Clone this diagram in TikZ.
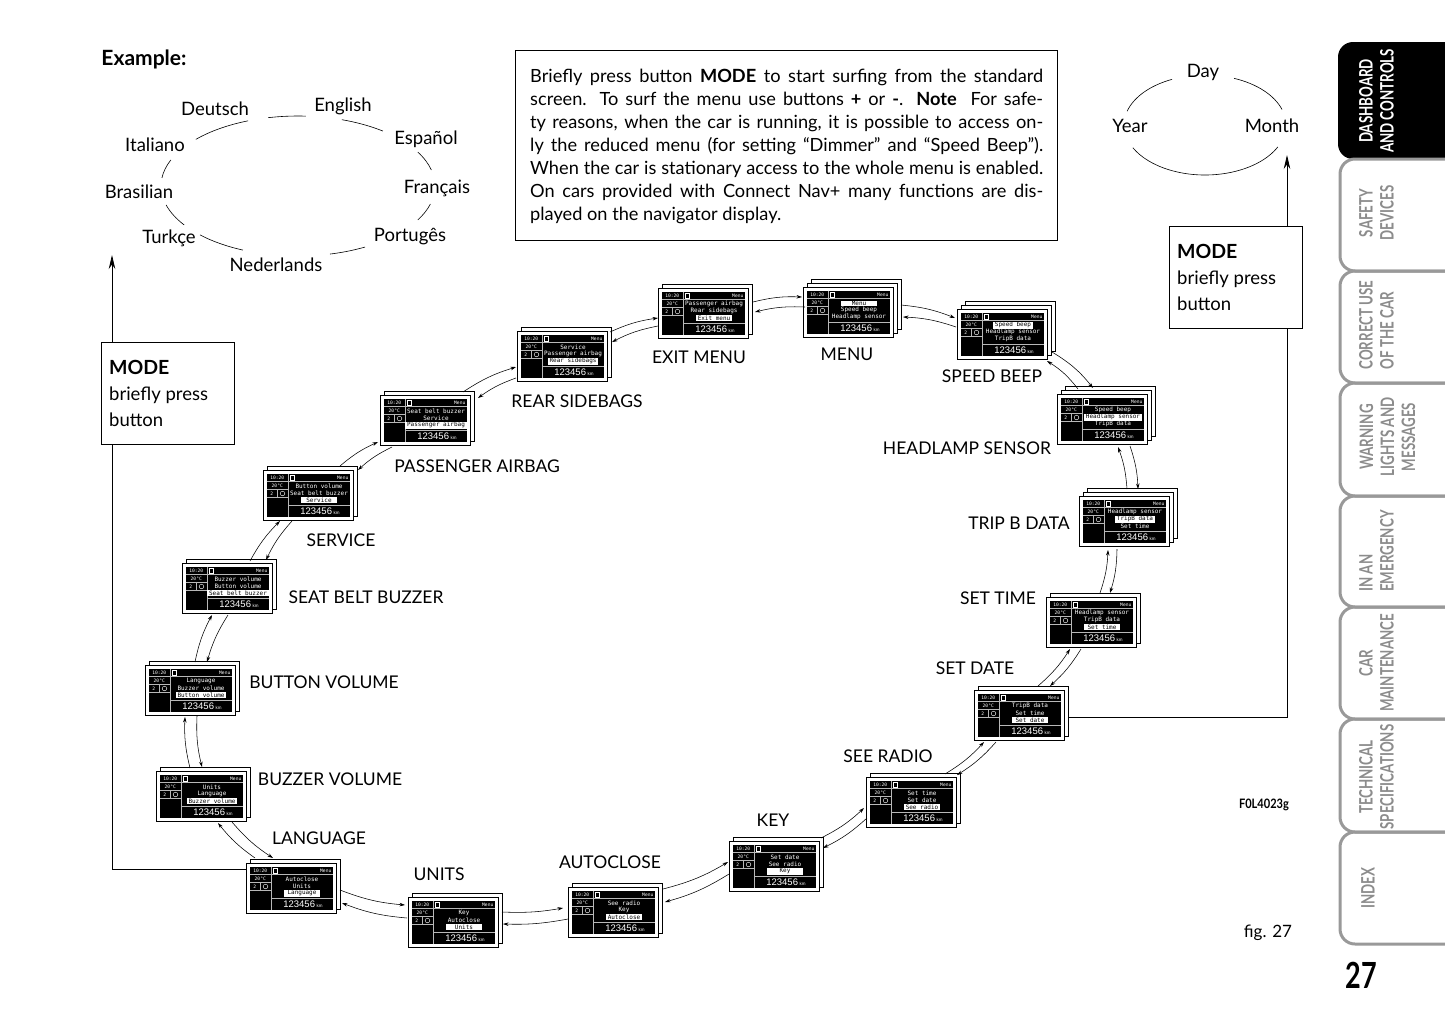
\documentclass[tikz,border=0pt]{standalone}
\usepackage{fontspec}
\setmainfont{Lato}
\newfontfamily\dmono{DejaVu Sans Mono}
\newfontfamily\dnumf{Liberation Sans}
\usetikzlibrary{arrows.meta}
\definecolor{tabgray}{gray}{0.6}
\definecolor{tabtextgray}{gray}{0.55}
\definecolor{dline}{gray}{0.72}
\tikzset{
 dframe/.style={draw=black,line width=0.8pt,fill=white,minimum width=90pt,minimum height=50pt,inner sep=0pt,outer sep=0pt},
 sheet/.style={draw=black,line width=0.8pt,fill=white},
 dsep/.style={draw=dline,line width=0.45pt},
 dsm/.style={text=white,font=\dmono\fontsize{4.6}{5}\selectfont,inner sep=0pt},
 dtxt/.style={text=white,font=\dmono\fontsize{6}{6.5}\selectfont,inner sep=0pt},
 dhl/.style={fill=white,text=black,font=\dmono\fontsize{6}{6.5}\selectfont,inner xsep=2pt,inner ysep=0.5pt,minimum width=36pt},
 dnum/.style={text=white,font=\dnumf\fontsize{9.5}{10}\selectfont,inner sep=0pt},
 conn/.style={-{Stealth[length=5.5pt,width=3.5pt]},line width=0.55pt},
 lbl/.style={font=\fontsize{17.5}{20}\selectfont,inner sep=0pt},
 lang/.style={font=\fontsize{18.5}{20}\selectfont,inner sep=0pt},
 para/.style={font=\fontsize{18.2}{20}\selectfont,inner sep=0pt,anchor=base west},
 modebox/.style={draw=black,line width=0.8pt,fill=white,minimum width=133pt,minimum height=102pt,inner sep=0pt,anchor=north west},
 modetxt/.style={font=\fontsize{18.5}{20}\selectfont,inner sep=0pt,anchor=base west},
 modearrow/.style={-{Stealth[length=14pt,width=6.5pt]},line width=0.8pt},
 tabline/.style={draw=tabgray,line width=3pt,rounded corners=15pt},
 tabtext/.style={rotate=90,font=\bfseries\fontsize{18.5}{21}\selectfont,inner sep=0pt,text=tabtextgray},
}
\newcommand\disp[8]{%
 \ifnum#8>1 \draw[sheet] (#2+8,#3-8) rectangle (#2+98,#3+42);\fi
 \ifnum#8>0 \draw[sheet] (#2+4,#3-4) rectangle (#2+94,#3+46);\fi
 \node[dframe,anchor=north west] (#1) at (#2,#3) {};
 \fill[black] (#2+3.5,#3+3.5) rectangle (#2+86.5,#3+46.5);
 \draw[dsep] (#2+25,#3+3.5) -- (#2+25,#3+46.5)
   (#2+3.5,#3+11.5) -- (#2+86.5,#3+11.5)
   (#2+3.5,#3+19.5) -- (#2+25,#3+19.5)
   (#2+3.5,#3+27.5) -- (#2+25,#3+27.5)
   (#2+14,#3+19.5) -- (#2+14,#3+27.5)
   (#2+25,#3+35.5) -- (#2+86.5,#3+35.5);
 \node[dsm] (#1-clock) at (#2+14.25,#3+7.7) {10:20};
 \node[dsm] (#1-temp) at (#2+14.25,#3+15.7) {20°C};
 \node[dsm] (#1-gear) at (#2+8.75,#3+23.7) {2};
 \draw[white,line width=0.4pt] (#2+19.5,#3+23.5) circle[radius=2.3];
 \draw[white,line width=0.4pt] (#2+27.5,#3+5.5) rectangle (#2+31,#3+10);
 \node[dsm,anchor=east] (#1-menu) at (#2+85.5,#3+7.7) {Menu};
 \ifnum#7=1 \node[dhl] (#1-a) at (#2+56,#3+16.3) {#4};\else \node[dtxt] (#1-a) at (#2+56,#3+16.3) {#4};\fi
 \ifnum#7=2 \node[dhl] (#1-b) at (#2+56,#3+23.3) {#5};\else \node[dtxt] (#1-b) at (#2+56,#3+23.3) {#5};\fi
 \ifnum#7=3 \node[dhl] (#1-c) at (#2+56,#3+30.3) {#6};\else \node[dtxt] (#1-c) at (#2+56,#3+30.3) {#6};\fi
 \node[dnum] (#1-km) at (#2+57,#3+41.3) {123456\,{\fontsize{4.5}{5}\selectfont km}};
}
\begin{document}
\begin{tikzpicture}[x=1pt,y=-1pt]
\fill[white] (0,0) rectangle (1445,1026);
\useasboundingbox (0,0) rectangle (1445,1026);

% ---------- Example: languages ----------
\node[font=\bfseries\fontsize{21}{22}\selectfont,inner sep=0pt] (example) at (144,59) {Example:};
\node[lang] (l1) at (215,109) {Deutsch};
\node[lang] (l2) at (343,106) {English};
\node[lang] (l3) at (426,139) {Español};
\node[lang] (l4) at (437,188) {Français};
\node[lang] (l5) at (410,237) {Portugês};
\node[lang] (l6) at (276,265) {Nederlands};
\node[lang] (l7) at (169,238) {Turkçe};
\node[lang] (l8) at (139,192) {Brasilian};
\node[lang] (l9) at (155,145) {Italiano};
\foreach \a/\b in {257.4/273.3,288.7/308.3,331/346.8,14.9/29,60.7/76.5,113.7/135.7,146.2/164.3,186.6/201.8,221.8/248.6}
  \draw[line width=0.6pt] ({298+137*cos(\a)},{186+70*sin(\a)}) arc[start angle=\a,end angle=\b,x radius=137,y radius=70];

% ---------- Day / Month / Year ----------
\node[lang] (dy) at (1203,72) {Day};
\node[lang] (yr) at (1130,126) {Year};
\node[lang] (mo) at (1272,126) {Month};
\foreach \a/\b in {196/246,291/342,26/153}
  \draw[line width=0.6pt] ({1205+81*cos(\a)},{125+50*sin(\a)}) arc[start angle=\a,end angle=\b,x radius=81,y radius=50];

% ---------- Info box ----------
\node[draw=black,line width=0.8pt,minimum width=542pt,minimum height=190pt,inner sep=0pt,anchor=north west] (info) at (515,50) {};
\node[para] (p1) at (530,82) {\makebox[513pt][s]{Briefly press button \textbf{MODE} to start surfing from the standard}};
\node[para] (p2) at (530,105) {\makebox[513pt][s]{screen. To surf the menu use buttons \textbf{+} or \textbf{-}. \textbf{Note}\ \ For safe-}};
\node[para] (p3) at (530,128) {\makebox[513pt][s]{ty reasons, when the car is running, it is possible to access on-}};
\node[para] (p4) at (530,151) {\makebox[513pt][s]{ly the reduced menu (for setting “Dimmer” and “Speed Beep”).}};
\node[para] (p5) at (530,174) {\makebox[513pt][s]{When the car is stationary access to the whole menu is enabled.}};
\node[para] (p6) at (530,197) {\makebox[513pt][s]{On cars provided with Connect Nav+ many functions are dis-}};
\node[para] (p7) at (530,220) {played on the navigator display.};

% ---------- Displays ----------
\disp{d1}{658}{288}{Passenger airbag}{Rear sidebags}{Exit menu}{3}{1}
\disp{d2}{803}{287}{Menu}{Speed beep}{Headlamp sensor}{1}{2}
\disp{d3}{957}{309}{Speed beep}{Headlamp sensor}{TripB data}{1}{2}
\disp{d4}{1057}{394}{Speed beep}{Headlamp sensor}{TripB data}{2}{2}
\disp{d5}{1079}{496}{Headlamp sensor}{TripB data}{Set time}{2}{2}
\disp{d6}{1046}{597}{Headlamp sensor}{TripB data}{Set time}{3}{1}
\disp{d7}{974}{690}{TripB data}{Set time}{Set date}{3}{1}
\disp{d8}{866}{777}{Set time}{Set date}{See radio}{3}{1}
\disp{d9}{729}{841}{Set date}{See radio}{Key}{3}{1}
\disp{d10}{568}{887}{See radio}{Key}{Autoclose}{3}{1}
\disp{d11}{408}{897}{Key}{Autoclose}{Units}{3}{1}
\disp{d12}{246}{863}{Autoclose}{Units}{Language}{3}{1}
\disp{d13}{156}{771}{Units}{Language}{Buzzer volume}{3}{1}
\disp{d14}{145}{665}{Language}{Buzzer volume}{Button volume}{3}{1}
\disp{d15}{182}{563}{Buzzer volume}{Button volume}{Seat belt buzzer}{3}{1}
\disp{d16}{263}{470}{Button volume}{Seat belt buzzer}{Service}{3}{1}
\disp{d17}{380}{395}{Seat belt buzzer}{Service}{Passenger airbag}{3}{1}
\disp{d18}{517}{331}{Service}{Passenger airbag}{Rear sidebags}{3}{1}

% ---------- Labels ----------
\node[lbl] (t1) at (699,357) {EXIT MENU};
\node[lbl] (t2) at (847,354) {MENU};
\node[lbl] (t3) at (992,376) {SPEED BEEP};
\node[lbl] (t4) at (967,448) {HEADLAMP SENSOR};
\node[lbl] (t5) at (1019,523) {TRIP B DATA};
\node[lbl] (t6) at (998,598) {SET TIME};
\node[lbl] (t7) at (975,668) {SET DATE};
\node[lbl] (t8) at (888,756) {SEE RADIO};
\node[lbl] (t9) at (773,820) {KEY};
\node[lbl] (t10) at (610,862) {AUTOCLOSE};
\node[lbl] (t11) at (439,874) {UNITS};
\node[lbl] (t12) at (319,838) {LANGUAGE};
\node[lbl] (t13) at (330,779) {BUZZER VOLUME};
\node[lbl] (t14) at (324,682) {BUTTON VOLUME};
\node[lbl] (t15) at (366,597) {SEAT BELT BUZZER};
\node[lbl] (t16) at (341,540) {SERVICE};
\node[lbl] (t17) at (477,466) {PASSENGER AIRBAG};
\node[lbl] (t18) at (577,401) {REAR SIDEBAGS};

% ---------- Connectors (outer: clockwise, inner: back) ----------
\draw[conn] ([shift={(50,-11)}]d1.center) to[bend left=8] ([shift={(-46,-15)}]d2.center);
\draw[conn] ([shift={(-43,-5)}]d2.center) to[bend right=8] ([shift={(52,-1)}]d1.center);
\draw[conn] ([shift={(53,-7)}]d2.center) to[bend left=8] ([shift={(-47,-16)}]d3.center);
\draw[conn] ([shift={(-46,-7)}]d3.center) to[bend right=8] ([shift={(55,5)}]d2.center);
\draw[conn] ([shift={(50,18)}]d3.center) to[bend left=10] ([shift={(-9,-31)}]d4.center);
\draw[conn] ([shift={(-24,-30)}]d4.center) to[bend right=10] ([shift={(45,27)}]d3.center);
\draw[conn] ([shift={(28,27)}]d4.center) to[bend left=8] ([shift={(14,-32)}]d5.center);
\draw[conn] ([shift={(3,-32)}]d5.center) to[bend right=8] ([shift={(16,28)}]d4.center);
\draw[conn] ([shift={(-7,28)}]d5.center) to[bend left=8] ([shift={(19,-29)}]d6.center);
\draw[conn] ([shift={(9,-29)}]d6.center) to[bend right=8] ([shift={(-16,29)}]d5.center);
\draw[conn] ([shift={(-10,27)}]d6.center) to[bend left=8] ([shift={(31,-29)}]d7.center);
\draw[conn] ([shift={(19,-29)}]d7.center) to[bend right=8] ([shift={(-21,27)}]d6.center);
\draw[conn] ([shift={(-23,27)}]d7.center) to[bend left=8] ([shift={(46,-27)}]d8.center);
\draw[conn] ([shift={(34,-28)}]d8.center) to[bend right=8] ([shift={(-35,27)}]d7.center);
\draw[conn] ([shift={(-44,16)}]d8.center) to[bend left=8] ([shift={(49,-18)}]d9.center);
\draw[conn] ([shift={(47,-28)}]d9.center) to[bend right=8] ([shift={(-47,6)}]d8.center);
\draw[conn] ([shift={(-45,8)}]d9.center) to[bend left=8] ([shift={(52,-10)}]d10.center);
\draw[conn] ([shift={(50,-23)}]d10.center) to[bend right=8] ([shift={(-46,-4)}]d9.center);
\draw[conn] ([shift={(-45,7)}]d10.center) to[bend left=6] ([shift={(50,2)}]d11.center);
\draw[conn] ([shift={(49,-10)}]d11.center) to[bend right=6] ([shift={(-50,-4)}]d10.center);
\draw[conn] ([shift={(-46,-4)}]d11.center) to[bend left=8] ([shift={(51,15)}]d12.center);
\draw[conn] ([shift={(49,2)}]d12.center) to[bend right=8] ([shift={(-48,-17)}]d11.center);
\draw[conn] ([shift={(-36,-30)}]d12.center) to[bend left=8] ([shift={(17,27)}]d13.center);
\draw[conn] ([shift={(31,26)}]d13.center) to[bend right=8] ([shift={(-18,-30)}]d12.center);
\draw[conn] ([shift={(-11,-28)}]d13.center) to[bend left=8] ([shift={(-5,27)}]d14.center);
\draw[conn] ([shift={(7,26)}]d14.center) to[bend right=8] ([shift={(1,-29)}]d13.center);
\draw[conn] ([shift={(5,-28)}]d14.center) to[bend left=8] ([shift={(-15,27)}]d15.center);
\draw[conn] ([shift={(1,27)}]d15.center) to[bend right=8] ([shift={(17,-28)}]d14.center);
\draw[conn] ([shift={(23,-27)}]d15.center) to[bend left=8] ([shift={(-28,26)}]d16.center);
\draw[conn] ([shift={(-16,26)}]d16.center) to[bend right=8] ([shift={(39,-28)}]d15.center);
\draw[conn] ([shift={(32,-29)}]d16.center) to[bend left=8] ([shift={(-47,22)}]d17.center);
\draw[conn] ([shift={(-33,27)}]d17.center) to[bend right=8] ([shift={(50,-25)}]d16.center);
\draw[conn] ([shift={(38,-28)}]d17.center) to[bend left=8] ([shift={(-46,11)}]d18.center);
\draw[conn] ([shift={(-46,22)}]d18.center) to[bend right=8] ([shift={(53,-22)}]d17.center);
\draw[conn] ([shift={(48,-24)}]d18.center) to[bend left=8] ([shift={(-45,5)}]d1.center);
\draw[conn] ([shift={(-45,13)}]d1.center) to[bend right=8] ([shift={(50,-14)}]d18.center);

% ---------- MODE lines and boxes ----------
\coordinate (mlt) at (112,255);
\coordinate (mrt) at (1287,155);
\draw[modearrow] ([shift={(0,-19)}]d12.west) -| (mlt);
\draw[modearrow] ([shift={(4,2)}]d7.east) -| (mrt);
\node[modebox] (modeL) at (101,342) {};
\node[modetxt,font=\bfseries\fontsize{19.5}{20}\selectfont] (modeL1) at (109,374) {MODE};
\node[modetxt] (modeL2) at (109,400) {briefly press};
\node[modetxt] (modeL3) at (109,426) {button};
\node[modebox] (modeR) at (1169,226) {};
\node[modetxt,font=\bfseries\fontsize{19.5}{20}\selectfont] (modeR1) at (1177,258) {MODE};
\node[modetxt] (modeR2) at (1177,284) {briefly press};
\node[modetxt] (modeR3) at (1177,310) {button};

% ---------- Misc texts ----------
\node[font=\bfseries\fontsize{13}{14}\selectfont,inner sep=0pt] (code) at (1264,805) {\scalebox{0.85}[1]{F0L4023g}};
\node[font=\fontsize{17}{20}\selectfont,inner sep=0pt] (fig) at (1268,933) {fig. 27};
\node[font=\bfseries\fontsize{36}{40}\selectfont,inner sep=0pt] (page) at (1361,975) {\scalebox{0.75}[1]{27}};

% ---------- Side tabs ----------
\begin{scope}
\clip (0,0) rectangle (1445,1026);
\fill[black,rounded corners=15pt] (1470,42) -- (1338,42) -- (1338,159) -- (1470,159) -- cycle;
\foreach \t/\b in {159/271,271/383,383/496,496/607,607/719,719/832,832/944}
  \draw[tabline] (1470,\t) -- (1340,\t) -- (1340,\b) -- (1470,\b);
\end{scope}
\node[tabtext,text=white] (tab1) at (1379,101) {\scalebox{0.72}[1]{\begin{tabular}{@{}c@{}}DASHBOARD\\AND CONTROLS\end{tabular}}};
\node[tabtext] (tab2) at (1379,213) {\scalebox{0.72}[1]{\begin{tabular}{@{}c@{}}SAFETY\\DEVICES\end{tabular}}};
\node[tabtext] (tab3) at (1379,325) {\scalebox{0.72}[1]{\begin{tabular}{@{}l@{}}CORRECT USE\\OF THE CAR\end{tabular}}};
\node[tabtext] (tab4) at (1390,437) {\scalebox{0.72}[1]{\begin{tabular}{@{}c@{}}WARNING\\LIGHTS AND\\MESSAGES\end{tabular}}};
\node[tabtext] (tab5) at (1379,551) {\scalebox{0.72}[1]{\begin{tabular}{@{}l@{}}IN AN\\EMERGENCY\end{tabular}}};
\node[tabtext] (tab6) at (1379,663) {\scalebox{0.72}[1]{\begin{tabular}{@{}c@{}}CAR\\MAINTENANCE\end{tabular}}};
\node[tabtext] (tab7) at (1379,777) {\scalebox{0.72}[1]{\begin{tabular}{@{}c@{}}TECHNICAL\\SPECIFICATIONS\end{tabular}}};
\node[tabtext] (tab8) at (1368,888) {\scalebox{0.72}[1]{INDEX}};
\end{tikzpicture}
\end{document}
